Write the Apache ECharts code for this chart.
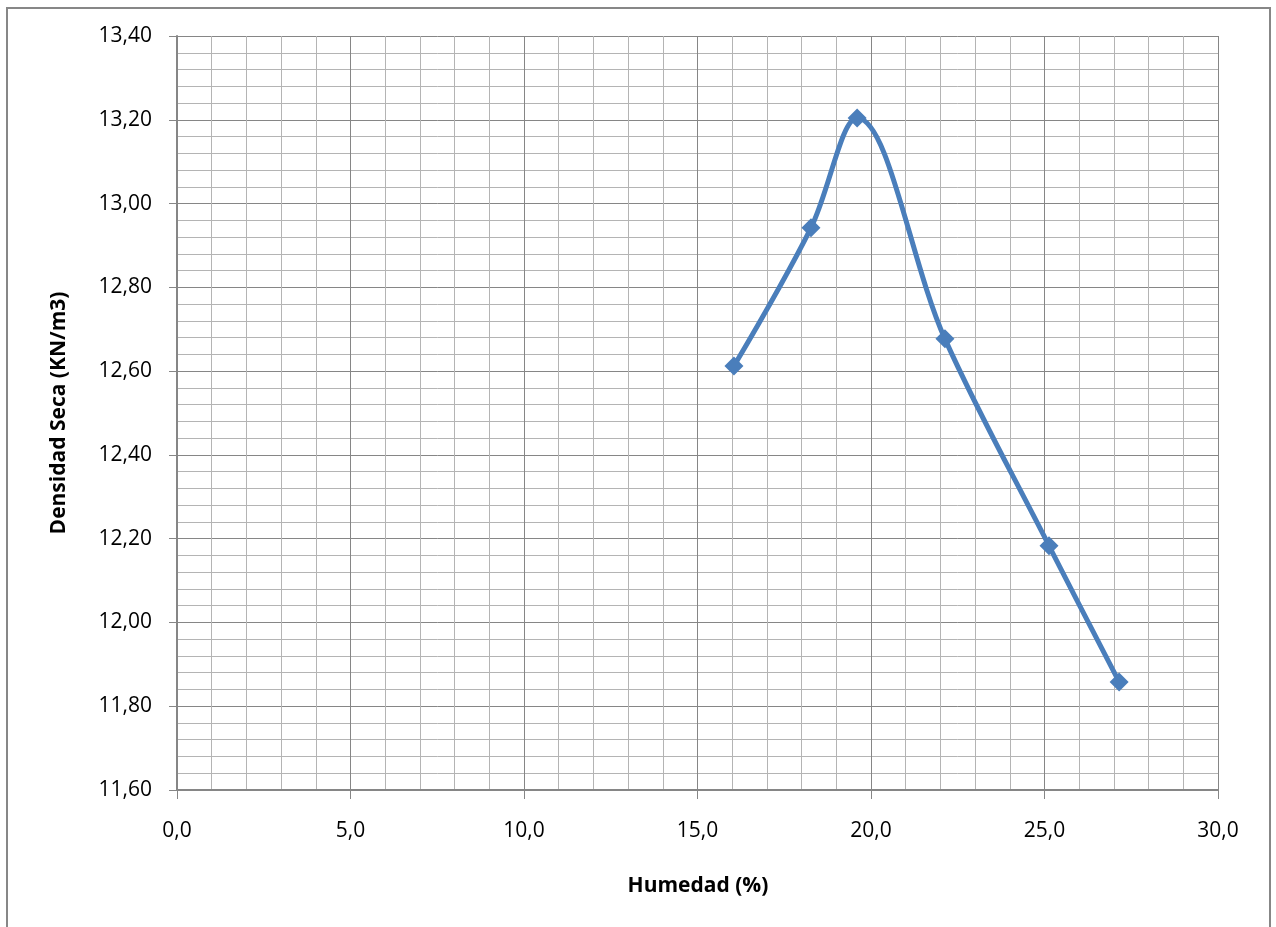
<!DOCTYPE html>
<html>
<head>
<meta charset="utf-8">
<script src="https://cdn.jsdelivr.net/npm/echarts@6/dist/echarts.min.js"></script>
<style>
html,body{margin:0;padding:0;background:#fff;}
#chart{width:1276px;height:927px;}
</style>
</head>
<body>
<div id="chart"></div>
<script>
var humedad = [16.05, 18.27, 19.60, 22.13, 25.13, 27.15];
var densidad = [12.612, 12.942, 13.204, 12.677, 12.183, 11.858];
var xTitle = 'Humedad (%)';
var yTitle = 'Densidad Seca (KN/m3)';

var chart = echarts.init(document.getElementById('chart'), null, {renderer: 'canvas'});
var font = '"Open Sans", "DejaVu Sans", sans-serif';
var pts = humedad.map(function (x, i) { return [x, densidad[i]]; });

chart.setOption({
  animation: false,
  backgroundColor: '#fff',
  graphic: [{
    type: 'polyline',
    shape: {points: [[7, 927], [7, 8], [1270, 8], [1270, 927]]},
    style: {stroke: '#878787', lineWidth: 2, fill: null}
  }, {
    type: 'text', x: 698, y: 886,
    style: {text: xTitle, font: 'bold 21px ' + font, fill: '#000', align: 'center', verticalAlign: 'middle'}
  }, {
    type: 'text', x: 59, y: 413, rotation: Math.PI / 2,
    style: {text: yTitle, font: 'bold 21px ' + font, fill: '#000', align: 'center', verticalAlign: 'middle'}
  }],
  grid: {left: 177, top: 36, width: 1041, height: 754, containLabel: false},
  xAxis: {
    type: 'value', min: 0, max: 30, interval: 5,
    axisLine: {show: true, onZero: false, lineStyle: {color: '#868686', width: 2}},
    axisTick: {show: true, length: 9, lineStyle: {color: '#868686', width: 1}},
    axisLabel: {margin: 31, fontSize: 21, fontFamily: font, color: '#000',
      formatter: function (v) { return v.toFixed(1).replace('.', ','); }},
    splitLine: {show: true, lineStyle: {color: '#868686', width: 1}},
    minorTick: {show: false, splitNumber: 5},
    minorSplitLine: {show: true, lineStyle: {color: '#b4b4b4', width: 1}}
  },
  yAxis: {
    type: 'value', min: 11.6, max: 13.4, interval: 0.2,
    axisLine: {show: true, onZero: false, lineStyle: {color: '#868686', width: 2}},
    axisTick: {show: true, length: 8, lineStyle: {color: '#868686', width: 1}},
    axisLabel: {margin: 25, fontSize: 21, fontFamily: font, color: '#000',
      formatter: function (v) { return v.toFixed(2).replace('.', ','); }},
    splitLine: {show: true, lineStyle: {color: '#868686', width: 1}},
    minorTick: {show: false, splitNumber: 5},
    minorSplitLine: {show: true, lineStyle: {color: '#b4b4b4', width: 1}}
  },
  series: [{
    type: 'line',
    data: pts,
    smooth: 0.35,
    symbol: 'diamond',
    symbolSize: 19,
    lineStyle: {color: '#4a7ebb', width: 5},
    itemStyle: {color: '#4a7ebb'}
  }]
});
</script>
</body>
</html>
